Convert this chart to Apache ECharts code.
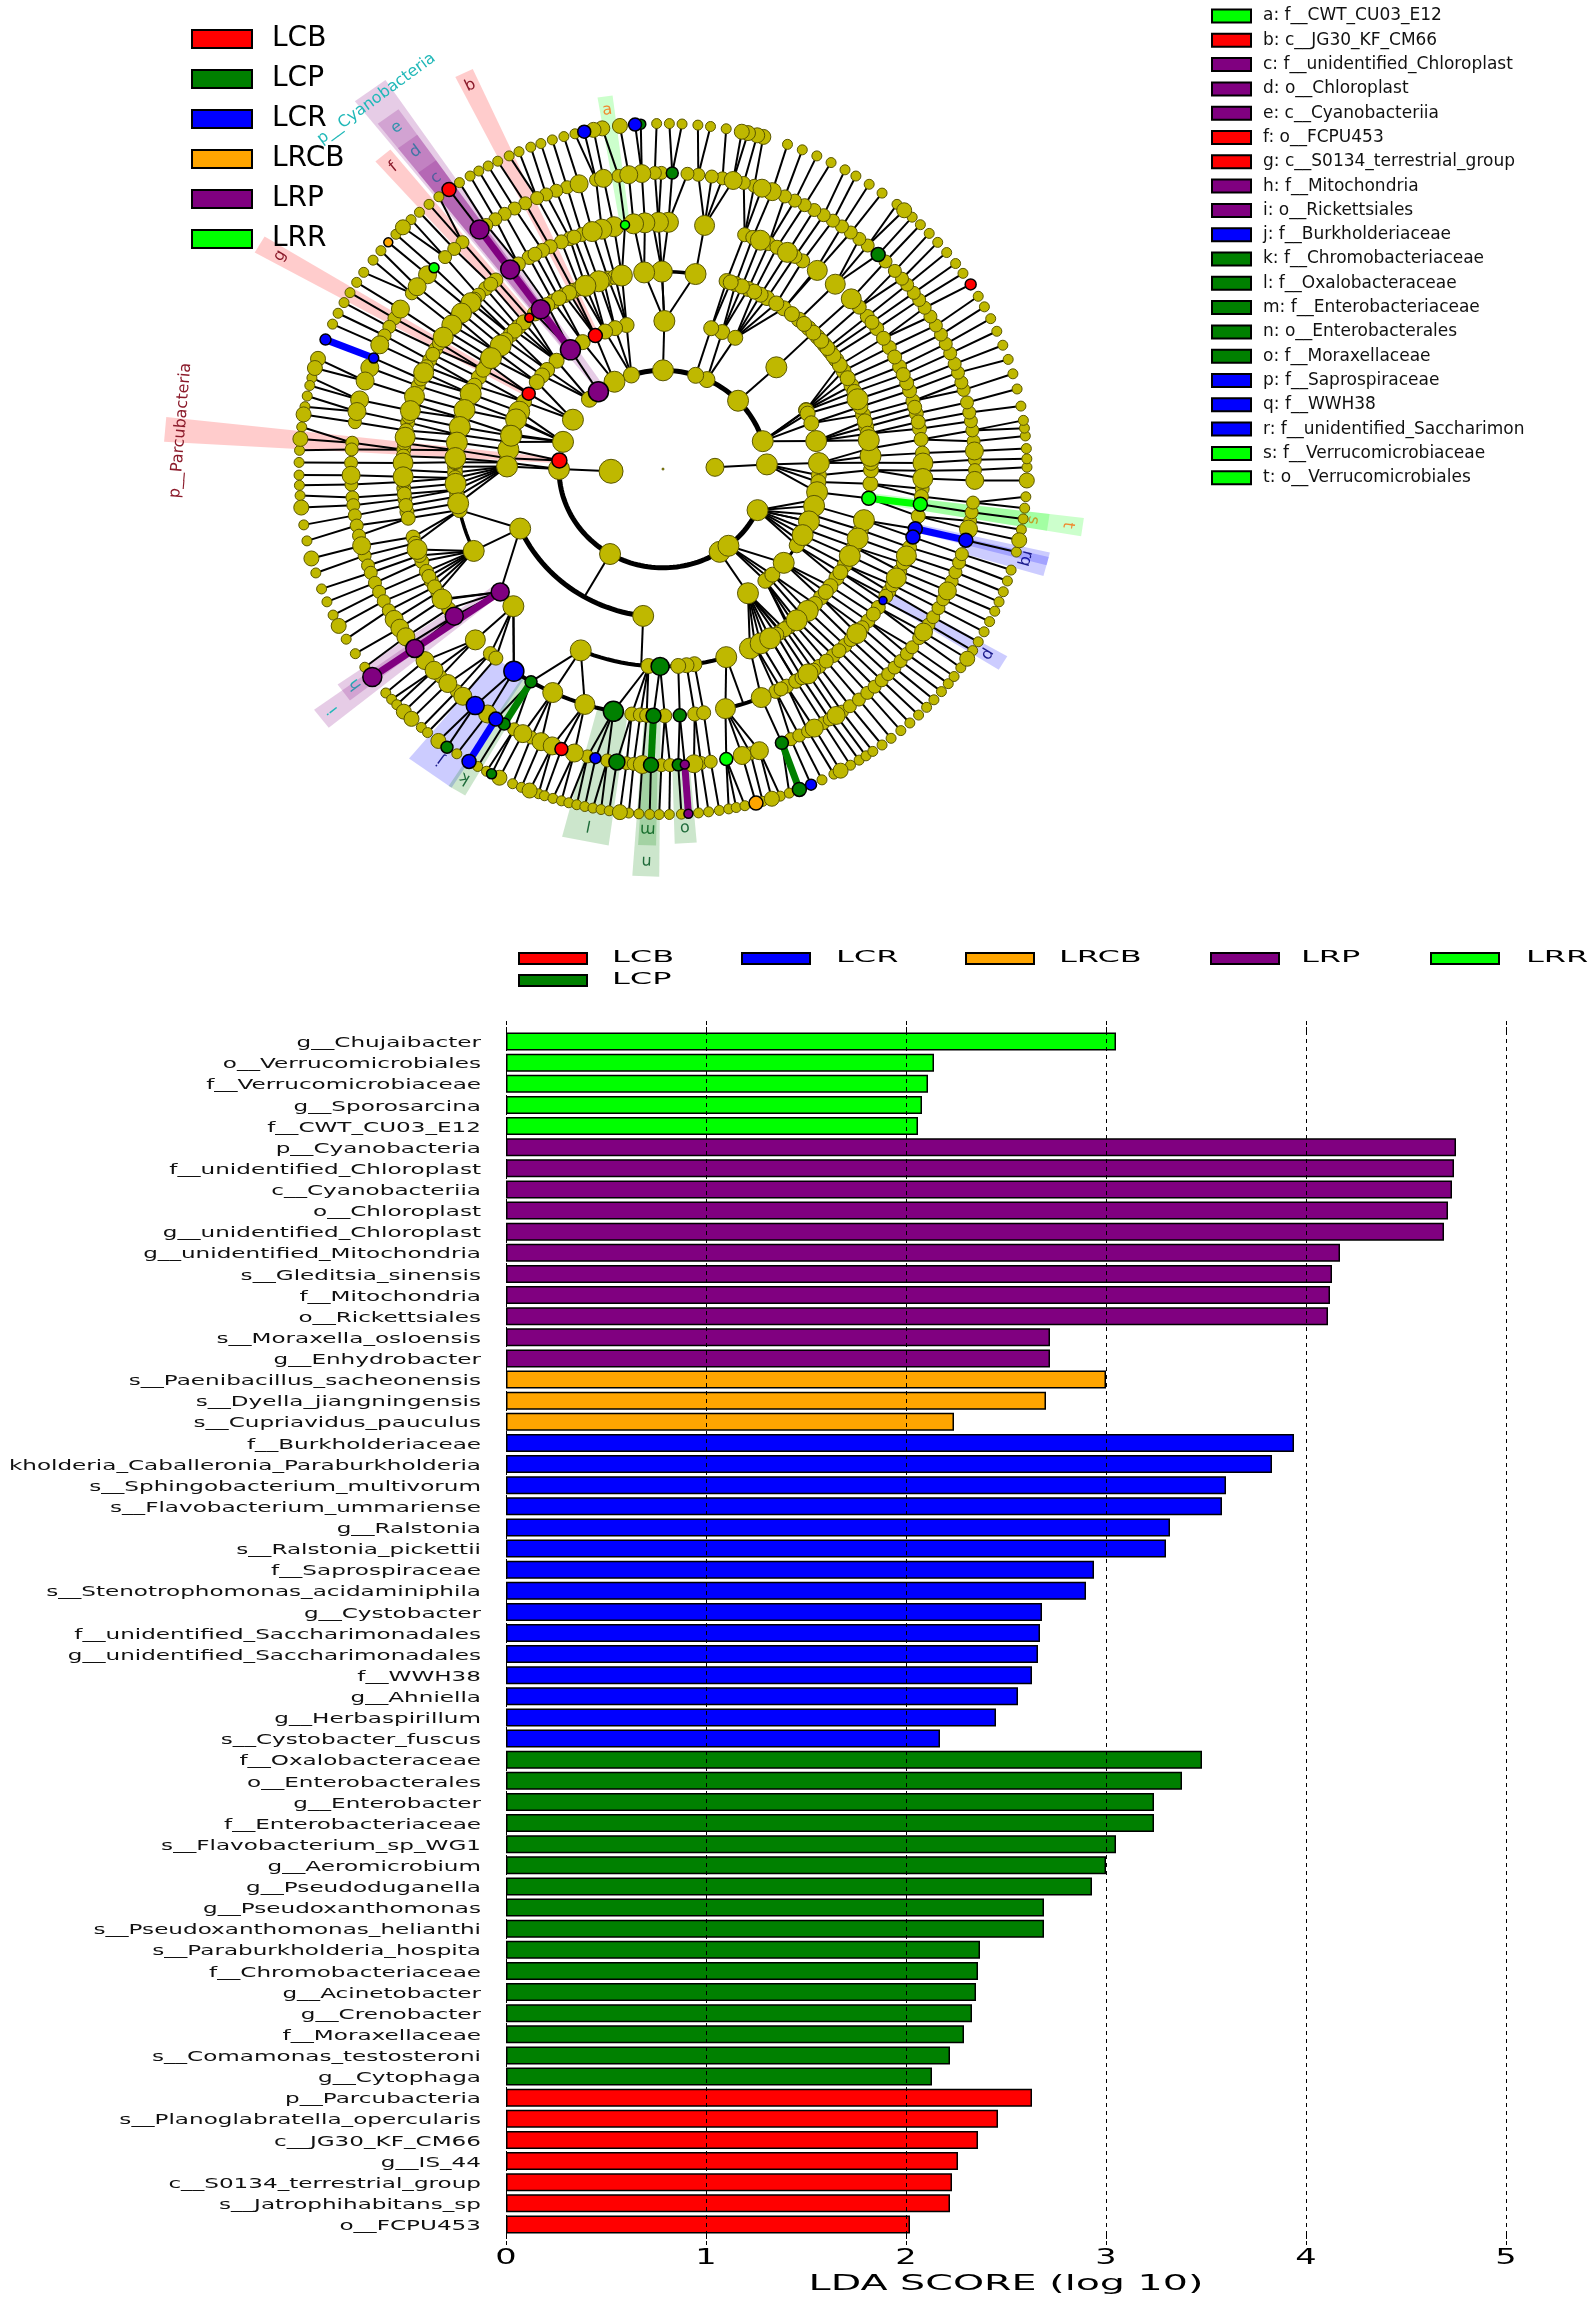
<!DOCTYPE html>
<html><head><meta charset="utf-8"><style>html,body{margin:0;padding:0;background:#fff}#c{width:1595px;height:2300px}</style>
<script src="https://cdn.jsdelivr.net/npm/echarts@6/dist/echarts.min.js"></script></head><body><div id="c"></div>
<script>
// ---------- bar panel data ----------
const categories=["g__Chujaibacter","o__Verrucomicrobiales","f__Verrucomicrobiaceae","g__Sporosarcina","f__CWT_CU03_E12","p__Cyanobacteria","f__unidentified_Chloroplast","c__Cyanobacteriia","o__Chloroplast","g__unidentified_Chloroplast","g__unidentified_Mitochondria","s__Gleditsia_sinensis","f__Mitochondria","o__Rickettsiales","s__Moraxella_osloensis","g__Enhydrobacter","s__Paenibacillus_sacheonensis","s__Dyella_jiangningensis","s__Cupriavidus_pauculus","f__Burkholderiaceae","kholderia_Caballeronia_Paraburkholderia","s__Sphingobacterium_multivorum","s__Flavobacterium_ummariense","g__Ralstonia","s__Ralstonia_pickettii","f__Saprospiraceae","s__Stenotrophomonas_acidaminiphila","g__Cystobacter","f__unidentified_Saccharimonadales","g__unidentified_Saccharimonadales","f__WWH38","g__Ahniella","g__Herbaspirillum","s__Cystobacter_fuscus","f__Oxalobacteraceae","o__Enterobacterales","g__Enterobacter","f__Enterobacteriaceae","s__Flavobacterium_sp_WG1","g__Aeromicrobium","g__Pseudoduganella","g__Pseudoxanthomonas","s__Pseudoxanthomonas_helianthi","s__Paraburkholderia_hospita","f__Chromobacteriaceae","g__Acinetobacter","g__Crenobacter","f__Moraxellaceae","s__Comamonas_testosteroni","g__Cytophaga","p__Parcubacteria","s__Planoglabratella_opercularis","c__JG30_KF_CM66","g__IS_44","c__S0134_terrestrial_group","s__Jatrophihabitans_sp","o__FCPU453"];
const ldaScores=[3.05,2.14,2.11,2.08,2.06,4.75,4.74,4.73,4.71,4.69,4.17,4.13,4.12,4.11,2.72,2.72,3.0,2.70,2.24,3.94,3.83,3.60,3.58,3.32,3.30,2.94,2.90,2.68,2.67,2.66,2.63,2.56,2.45,2.17,3.48,3.38,3.24,3.24,3.05,3.0,2.93,2.69,2.69,2.37,2.36,2.35,2.33,2.29,2.22,2.13,2.63,2.46,2.36,2.26,2.23,2.22,2.02];
const categoryClass=["LRR","LRR","LRR","LRR","LRR","LRP","LRP","LRP","LRP","LRP","LRP","LRP","LRP","LRP","LRP","LRP","LRCB","LRCB","LRCB","LCR","LCR","LCR","LCR","LCR","LCR","LCR","LCR","LCR","LCR","LCR","LCR","LCR","LCR","LCR","LCP","LCP","LCP","LCP","LCP","LCP","LCP","LCP","LCP","LCP","LCP","LCP","LCP","LCP","LCP","LCP","LCB","LCB","LCB","LCB","LCB","LCB","LCB"];
const xTicks=[0,1,2,3,4,5];
const classNames=["LCB","LCP","LCR","LRCB","LRP","LRR"];
const classColors={LCB:"#ff0000",LCP:"#008000",LCR:"#0000ff",LRCB:"#ffa500",LRP:"#800080",LRR:"#00ff00"};
const labelColors={LCB:"#8b1a2a",LCP:"#1f6b3a",LCR:"#1a1a8c",LRCB:"#cc6600",LRP:"#20b8b8",LRR:"#f08a30"};
// ---------- cladogram data: angles in degrees ----------
const ring2Small=[107.7,135,65,71.7];
const ring2Big=[164,150,117.8,90,43.8,16.4,2.7,335.4,303,309,239.4,180];
const ring3Small=[103.5,107.9,111.8,121,133,138,140.8,144,153,161,169.5,175.8,177.5,67.7,62.4,72,23.5,23.3,22,18,357.6,355,348,342,336,331,329,312.8,311,314.5];
const ring3Big=[89.5,157.2,166.4,172.4,179,43.4,10.9,2.3,351,345.6,339.3,333.5,320.7,303,262.7,203.7,160.4,167];
const ring4Small=[105.3,115.4,118.3,121.9,134,137.1,147.7,152.3,179.3,181,186,192,12.3,16,25,29.8,33.6,36.6,39,42,45.5,49.2,54.5,60,62,65.8,69.6,72.2,355.7,359.7,326.5,323.6,319.4,316.9,307,304.6,304.3,307.4,278.7,276.5,274.2,266,103.3,106.6,110,113.6,116.8,120,123.8,128,132,135.5,139.2,143.5,149.8,155,160,165,170,174.5,178,182.6,188,14,18.4,23,27.4,31.8,35,37.8,40.5,43.7,47.3,51.7,57,64,67.7,71,1.8,6,10.3,342,336.7,331,328.5,321.5,312,308.8,305.8,303,299.5,296.3];
const ring4Big=[90.3,95.2,101.4,108,111.9,141.3,145.8,157.6,162.6,167.7,172.3,176.8,184.3,190,204.5,224,81,20.7,3.8,8.4,345,339.4,333.9,314.1,310,246.7,287.7,294.7,298,301];
const ring5Small=[92.3,108.2,111,113,115.7,117.6,121,123.8,130,133,135.2,150.9,153.8,160.3,169.1,175.5,184.5,187,190,196,202,204.5,207,210,212,214.5,228.4,230,263.1,265,266.4,270.4,277,279,295.7,298.4,300.8,355.4,9.4,6.9,3.7,330.3,325.9,322,314.4,310.9,306.9,300.7,13,16,18.5,20.4,24.5,29.5,34.7,38.2,54,57.5,66,71.7,110,119.5,131.5,136.5,139,142.5,146,149.3,152.3,155.5,158.6,164.6,167.7,171,174,177,180.2,183,185.8,188.5,191.5,197.5,200.5,205.8,208.5,11,14.5,22.5,27,32,36.5,41,59.5,64,69.8,297,302.3,305.4,308.9,312.6,316.3,320,324,329,332,335.6,337.6,341.5,349,353.6,359.6];
const ring5Big=[88.8,91,94,96.5,100.9,103.6,105.8,137.6,140.8,144.3,147.7,157,162.9,166.3,172.6,178.6,181.8,199,211.8,223.8,244.9,252.5,283.9,292.2,1.4,357.8,339.4,333.8,318.2,303.9,43.6,48.5,53.6,61.4,68,80.8];
const ring6Small=[1.8,5.4,7.5,9.3,11,13,15.5,17,19,20.8,23,25,27,29,31,33,34.8,36.5,38.5,40,42,44.5,49,51,53,55,57,59,61,63,65,67,73,75,79,81,83.5,85.5,90.3,91.5,98.2,102.4,107.9,110,112,113.8,116.2,118.4,120.5,122.5,124.5,130,132,134.3,143.6,149.4,151.3,153.2,170.9,174.9,176.2,178.8,183,185.5,187,189,191,193,197,199,200.5,202.6,204.5,206.5,208.5,216,224.5,228.6,241.5,245,256,259.7,263.3,264.6,269.7,271.3,277,278.8,286.3,294.2,295.9,297.7,300.9,302.3,305,306.8,308.9,310.9,312.7,314.5,316.2,317.9,319.6,321.4,323,325.2,328.3,330,332,333.9,337.7,339.6,341.6,343.3,349.9,351.6,353.5,359.8];
const ring6Big=[69.5,71.5,77,93.9,96.3,101,105.6,139,142,147.3,155.2,160,162.7,166.5,168.8,181.2,195,210.5,212.5,214.5,220.3,222.8,226.4,230.1,235.8,243.3,247,249.2,253.5,266.2,275.7,284.7,288,299,303.7,326.6,335.7,348.3,357.8,3.5];
const ring7Small=[0.3,1.7,3.4,5.5,6.8,8.1,10.5,13.4,16,18.5,21,23.5,25.8,28,30,34.5,36.5,38.8,41,43,45,46.8,50,53,55.5,58,60,62.5,65,67.5,70,80,82.5,84.5,87,89,91,104,105.8,107.7,109.6,111.3,113.3,115,117,118.7,120.4,122,124,128,130,132,133.8,137.2,140.8,142.8,145.3,147.3,149.3,151.2,153.2,155.2,164.7,166,167.8,169.6,173,176.9,178.9,181,182.7,184.4,189.3,192,197.5,200.3,202.6,205,209.5,212.3,215,220.4,221.8,223,228.4,229.7,235.5,239.4,241,245.6,247.1,250,251,252.4,253.8,255,256.3,257.6,258.9,260.2,261.5,264.6,266.2,267.9,269.4,271,272.9,275.6,277.2,278.9,280.4,281.6,283,285.9,288.8,290.3,295.9,298,301,302.6,303.9,305.2,307,308.8,310.8,312.7,314.6,316.4,318.1,319.9,321.6,323.1,324.9,328.3,330,331.9,333.8,335.7,337.4,339.2,341.1,343,346.1,349.9,351.7,353.5,355.4];
const ring7Big=[48.5,74,75,76.5,77.5,96.8,99.6,101,135.6,161.4,163,170.9,175,186.4,195,207,224.6,226.3,231.9,243.3,248.5,263.2,287.4,299.2,326.7,348.1,358.1];
// coloured nodes: [level, angle, diameter]
const nodesLCB=[[7,126,14],[7,32.3,11],[4,130,9],[3,115.7,14],[3,149.4,13],[2,175,15],[6,251,13]];
const nodesLCP=[[6,88.3,12],[6,46.4,14],[6,292.4,13],[7,292,14],[6,261.5,16],[5,259,20],[6,267.8,15],[5,267.9,15],[4,269.2,18],[6,272.8,12],[5,273.7,13],[7,233.6,12],[6,239.4,12],[5,239.5,12],[7,241.9,10],[7,93.5,10]];
const nodesLCR=[[7,94.4,13],[7,102.5,13],[7,158,11],[6,158,10],[6,346.1,14],[5,346,14],[5,344,14],[5,327.8,8],[5,235,20],[6,233,18],[6,237.6,14],[7,237.8,14],[6,257.5,11],[7,294,11]];
const nodesLRCB=[[7,139,9],[7,284.8,14]];
const nodesLRP=[[2,128.4,20],[3,126.4,20],[4,126,19],[5,126,19],[6,126,19],[4,218.5,18],[5,216.6,18],[6,217.3,18],[7,217,19],[6,274,9],[7,274,9]];
const nodesLRR=[[6,137.2,10],[5,98.4,9],[6,281.7,13],[4,351.5,14],[5,351.8,14]];
const nodesByClass={LCB:nodesLCB,LCP:nodesLCP,LCR:nodesLCR,LRCB:nodesLRCB,LRP:nodesLRP,LRR:nodesLRR};
// thick coloured branches: [class, level, angle, level, angle]
const thickBranches=[["LRP",3,126.4,6,126],["LRP",4,218.5,7,217],["LRP",6,274,7,274],["LCR",6,158,7,158],["LCR",5,346,6,346.1],["LCR",6,237.6,7,237.8],["LCP",6,292.4,7,292],["LCP",5,267.9,6,267.8],["LCP",5,239.5,6,239.4],["LRR",4,351.5,5,351.8]];
// heavy arcs: [level, from, to, width]
const arcs=[[2,180,335.4,5],[2,16.4,117.8,5],[3,203.7,262.7,5],[4,190,204.5,3.5],[4,246.7,287.7,4],[4,81,95.2,3.5],[5,235,259,4],[5,283.9,292.2,4],[3,320.7,333.5,3]];
// stems from a parent to an arc: [level, angle, level, angle]
const stems=[[1,182.6,2,180],[1,2,2,2.7],[2,239.4,3,239.7],[3,262.7,4,264],[3,89.5,4,90.3],[2,335.4,3,339.3],[4,287.7,5,288],[4,224,5,235]];
const skipLink={2:[107.7,135,65,71.7,164,150,117.8,90,43.8,16.4,2.7,335.4,303,309,239.4,180,175,128.4],3:[203.7,262.7],4:[266,269.2,274.2,276.5,278.7,246.7,287.7,33.6,35,36.6,37.8,39,40.5,42,45.5,47.3,49.2,51.7]};
const maxLinkGap={3:24,4:18,5:14,6:12,7:8};
// highlighted clades: [legend text, class, letter, level, angle, outer radius, half width, label radius]
const cladeBands=[
["a: f__CWT_CU03_E12","LRR","a",5,98.4,1.09,1.1,1.05],
["b: c__JG30_KF_CM66","LCB","b",3,115.5,1.27,1.2,1.23],
["c: f__unidentified_Chloroplast","LRP","c",6,126.5,1.09,1.6,1.048],
["d: o__Chloroplast","LRP","d",4,126.5,1.18,1.6,1.143],
["e: c__Cyanobacteriia","LRP","e",3,126.5,1.27,1.6,1.23],
["f: o__FCPU453","LCB","f",4,130.3,1.19,1.3,1.145],
["g: c__S0134_terrestrial_group","LCB","g",3,149.6,1.285,1.2,1.22],
["h: f__Mitochondria","LRP","h",5,216.4,1.09,1.5,1.05],
["i: o__Rickettsiales","LRP","i",4,217.6,1.185,1.6,1.143],
["j: f__Burkholderiaceae","LCR","j",5,234,1.09,3.8,1.04],
["k: f__Chromobacteriaceae","LCP","k",5,238.7,1.09,1.4,1.047],
["l: f__Oxalobacteraceae","LCP","l",5,258.8,1.1,3.4,1.05],
["m: f__Enterobacteriaceae","LCP","m",6,267.7,1.09,1.3,1.043],
["n: o__Enterobacterales","LCP","n",5,267.7,1.18,1.8,1.135],
["o: f__Moraxellaceae","LCP","o",6,273.3,1.085,1.6,1.04],
["p: f__Saprospiraceae","LCR","p",5,329,1.09,1.2,1.04],
["q: f__WWH38","LCR","q",6,345,1.09,1.5,1.03],
["r: f__unidentified_Saccharimon","LCR","r",5,346.2,1.09,1.0,1.03],
["s: f__Verrucomicrobiaceae","LRR","s",5,351.7,1.07,1.3,1.027],
["t: o__Verrucomicrobiales","LRR","t",4,351.7,1.165,1.3,1.124]];
const phylumBands=[
["p__Cyanobacteria","LRP",2,126.3,1.36,2.2,1.33],
["p__Parcubacteria","LCB",2,175.2,1.373,1.5,1.33]];

// ---------- helpers ----------
const R=7, rad=Math.PI/180;
const pt=(r,a)=>[r*Math.cos(a*rad),r*Math.sin(a*rad)];
const lv=(l,a)=>pt(l/R,a);
const FONT='"DejaVu Sans"';
const nodes={1:[],2:[],3:[],4:[],5:[],6:[],7:[]};
const yellowData=[];
function addRing(level,angles,size){angles.forEach(a=>{nodes[level].push(a);yellowData.push({value:lv(level,a),symbolSize:size});});}
addRing(7,ring7Small,10);addRing(6,ring6Small,13);addRing(5,ring5Small,14);addRing(4,ring4Small,15);addRing(3,ring3Small,15);addRing(2,ring2Small,16);
addRing(7,ring7Big,15);addRing(6,ring6Big,18);addRing(5,ring5Big,20);addRing(4,ring4Big,21);addRing(3,ring3Big,21);addRing(2,ring2Big,21);
addRing(1,[182.6],24);addRing(1,[2],18);
yellowData.push({value:[0,0],symbolSize:2});
classNames.forEach(c=>nodesByClass[c].forEach(n=>nodes[n[0]].push(n[1])));
const adiff=(a,b)=>{let d=Math.abs(a-b)%360;return d>180?360-d:d;};
const linkLines=[];
for(let l=3;l<=7;l++){
  nodes[l].forEach(a=>{
    if((skipLink[l]||[]).includes(a))return;
    let best=null,bd=1e9;
    nodes[l-1].forEach(p=>{const d=adiff(a,p);if(d<bd){bd=d;best=p;}});
    if(best!==null&&bd<=maxLinkGap[l])linkLines.push({coords:[lv(l-1,best),lv(l,a)]});
  });
}
stems.forEach(s=>linkLines.push({coords:[lv(s[0],s[1]),lv(s[2],s[3])]}));
const arcLines=arcs.map(a=>{const pts=[];const n=Math.ceil(Math.abs(a[2]-a[1])/2);for(let i=0;i<=n;i++)pts.push(lv(a[0],a[1]+(a[2]-a[1])*i/n));return {coords:pts,lineStyle:{width:a[3],color:'#000'}};});
const thickLines=thickBranches.map(t=>({coords:[lv(t[1],t[2]),lv(t[3],t[4])],lineStyle:{width:7,color:classColors[t[0]]}}));

function wedge(api,inner,angle,outer,half){
  return [pt(inner,angle-half),pt(outer,angle-half),pt(outer,angle+half),pt(inner,angle+half)].map(p=>api.coord(p));
}
function bandSeries(name,cls,text,inner,angle,outer,half,labelR,fs){
  return {type:'custom',name:name,coordinateSystem:'cartesian2d',xAxisIndex:0,yAxisIndex:0,z:1,clip:false,silent:true,
    itemStyle:{color:classColors[cls]},data:[[angle,outer]],
    renderItem:(p,api)=>{
      const c=api.coord(pt(labelR,angle));
      return {type:'group',children:[
        {type:'polygon',shape:{points:wedge(api,inner,angle,outer,half)},style:{fill:classColors[cls],opacity:0.2}},
        {type:'text',x:c[0],y:c[1],rotation:(angle-90)*rad,style:{text:text,font:fs+'px '+FONT,fill:labelColors[cls],align:'center',verticalAlign:'middle'}}
      ]};
    }};
}
const series=[];
cladeBands.forEach(b=>series.push(bandSeries(b[0],b[1],b[2],b[3]/R,b[4],b[5],b[6],b[7],16)));
phylumBands.forEach(b=>series.push(bandSeries(b[0],b[1],b[0],b[2]/R,b[3],b[4],b[5],b[6],16)));
series.push({type:'lines',coordinateSystem:'cartesian2d',xAxisIndex:0,yAxisIndex:0,polyline:true,z:2,silent:true,lineStyle:{color:'#000',width:2,opacity:1},data:linkLines});
series.push({type:'lines',coordinateSystem:'cartesian2d',xAxisIndex:0,yAxisIndex:0,polyline:true,z:2,silent:true,lineStyle:{opacity:1},data:arcLines});
series.push({type:'lines',coordinateSystem:'cartesian2d',xAxisIndex:0,yAxisIndex:0,polyline:true,z:3,silent:true,lineStyle:{opacity:1},data:thickLines});
series.push({type:'scatter',name:'clade',xAxisIndex:0,yAxisIndex:0,z:4,silent:true,symbol:'circle',itemStyle:{color:'#bfb800',borderColor:'#5a5600',borderWidth:1,opacity:1},data:yellowData});
classNames.forEach(c=>series.push({type:'scatter',name:c,xAxisIndex:0,yAxisIndex:0,z:5,silent:true,symbol:'circle',
  itemStyle:{color:classColors[c],borderColor:'#000',borderWidth:1.5,opacity:1},
  data:nodesByClass[c].map(n=>({value:lv(n[0],n[1]),symbolSize:n[2]}))}));
// bars
classNames.forEach(c=>series.push({type:'bar',name:c,xAxisIndex:1,yAxisIndex:1,barWidth:18,barGap:'-100%',silent:true,z:2,
  itemStyle:{color:classColors[c],borderColor:'#000',borderWidth:1.5},
  data:ldaScores.map((v,i)=>categoryClass[i]===c?v:null)}));
// stretched axis texts (the reference panel is stretched horizontally)
series.push({type:'custom',name:'catLabels',coordinateSystem:'cartesian2d',xAxisIndex:1,yAxisIndex:1,z:6,silent:true,clip:false,
  data:categories.map((c,i)=>[0,i]),
  renderItem:(p,api)=>{const c=api.coord([0,p.dataIndex]);
    return {type:'text',x:c[0]-25,y:c[1]+2,scaleX:1.65,style:{text:categories[p.dataIndex],font:'14px '+FONT,fill:'#111',align:'right',verticalAlign:'middle'}};}});
series.push({type:'custom',name:'tickLabels',coordinateSystem:'cartesian2d',xAxisIndex:1,yAxisIndex:1,z:6,silent:true,clip:false,
  data:xTicks.map(t=>[t,56]),
  renderItem:(p,api)=>{const c=api.coord([xTicks[p.dataIndex],56]);
    return {type:'text',x:c[0],y:c[1]+34,scaleX:1.6,style:{text:String(xTicks[p.dataIndex]),font:'21px '+FONT,fill:'#000',align:'center',verticalAlign:'middle'}};}});
// legend above the bars
const barLegend=[["LCB",518,952,612],["LCP",518,974,612],["LCR",741,952,836],["LRCB",965,952,1059],["LRP",1210,952,1301],["LRR",1430,952,1526]];
const graphicEls=[];
barLegend.forEach(b=>{
  graphicEls.push({type:'rect',left:b[1],top:b[2],shape:{width:68,height:11},style:{fill:classColors[b[0]],stroke:'#000',lineWidth:2}});
  graphicEls.push({type:'text',x:b[3],y:b[2]+6,scaleX:2,style:{text:b[0],font:'16px '+FONT,fill:'#000',verticalAlign:'middle',align:'left'}});
});
graphicEls.push({type:'text',x:1006,y:2284,scaleX:1.8,style:{text:'LDA SCORE (log 10)',font:'22px '+FONT,fill:'#000',align:'center',verticalAlign:'middle'}});

const option={
  animation:false,backgroundColor:'#fff',
  grid:[{left:117,top:2.6,width:1092,height:932.9},{left:506,top:1031,width:1000,height:1204}],
  xAxis:[
    {gridIndex:0,type:'value',min:-1.5,max:1.5,show:false},
    {gridIndex:1,type:'value',min:0,max:5,interval:1,position:'bottom',z:5,axisLine:{show:false},axisLabel:{show:false},
      axisTick:{show:true,length:12,lineStyle:{color:'#000',width:1,type:'dashed'}},splitLine:{show:true,lineStyle:{color:'#000',width:1,type:[4,4]}}},
    {gridIndex:1,type:'value',min:0,max:5,interval:1,position:'top',z:5,axisLine:{show:false},axisLabel:{show:false},
      axisTick:{show:true,length:12,lineStyle:{color:'#000',width:1,type:'dashed'}},splitLine:{show:false}}
  ],
  yAxis:[
    {gridIndex:0,type:'value',min:-1.35,max:1.35,show:false},
    {gridIndex:1,type:'category',inverse:true,data:categories,axisLine:{show:false},axisTick:{show:false},axisLabel:{show:false}}
  ],
  legend:[
    {data:classNames,orient:'vertical',left:186,top:18,icon:'rect',itemWidth:60,itemHeight:18,itemGap:8,selectedMode:false,
      itemStyle:{borderColor:'#000',borderWidth:2},textStyle:{fontFamily:'DejaVu Sans',fontSize:28,color:'#000',padding:[0,0,0,15],lineHeight:32}},
    {data:cladeBands.map(b=>b[0]),orient:'vertical',left:1206,top:2,icon:'rect',itemWidth:39,itemHeight:13,itemGap:6.3,selectedMode:false,
      itemStyle:{borderColor:'#000',borderWidth:2},textStyle:{fontFamily:'DejaVu Sans',fontSize:17,color:'#111',padding:[0,0,0,7],lineHeight:18}}
  ],
  graphic:{elements:graphicEls},
  series:series
};
const chart=echarts.init(document.getElementById('c'));
chart.setOption(option);
</script></body></html>
